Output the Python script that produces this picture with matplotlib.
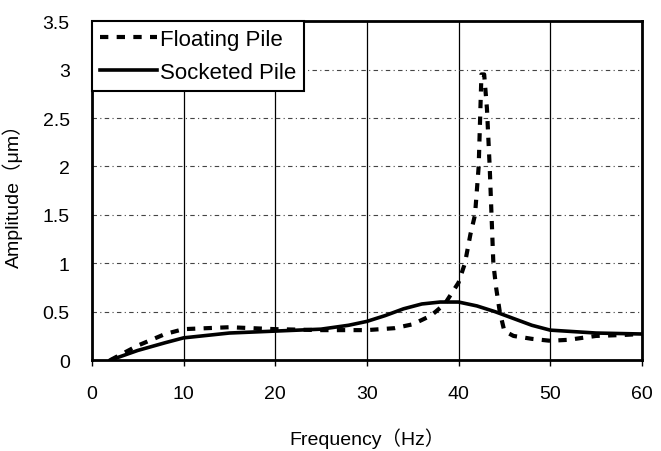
import matplotlib
matplotlib.use('Agg')
import matplotlib.pyplot as plt

plt.rcParams['font.family'] = ['Liberation Sans', 'Noto Sans CJK SC', 'DejaVu Sans']

# Floating pile (dashed)
freq_float = [2, 5, 8, 10, 15, 20, 25, 30, 33, 35, 37, 38.5, 40, 40.7, 41.3, 41.8, 42.2, 42.5,
              42.8, 43.1, 43.4, 43.6, 43.8, 44.1, 44.5, 45, 46, 48, 50, 52, 55, 58, 60]
amp_float = [0.0, 0.15, 0.27, 0.32, 0.34, 0.32, 0.31, 0.31, 0.33, 0.37, 0.46, 0.58, 0.8, 1.0, 1.3,
             1.5, 2.0, 2.95, 2.95, 2.6, 2.0, 1.5, 1.0, 0.75, 0.5, 0.3, 0.25, 0.22, 0.2, 0.21, 0.25, 0.26, 0.27]

# Socketed pile (solid)
freq_sock = [2, 5, 8, 10, 15, 20, 25, 28, 30, 32, 34, 36, 38, 40, 42, 44, 46, 48, 50, 55, 60]
amp_sock = [0.0, 0.1, 0.18, 0.23, 0.28, 0.3, 0.32, 0.36, 0.4, 0.46, 0.53, 0.58, 0.6, 0.6, 0.56,
            0.5, 0.43, 0.36, 0.31, 0.28, 0.27]

fig = plt.figure(figsize=(6.61, 4.52), dpi=100)
ax = fig.add_axes([0.139, 0.201, 0.832, 0.75])

ax.plot(freq_float, amp_float, color='black', lw=3, linestyle=(0, (2.0, 2.0)), label='Floating Pile')
ax.plot(freq_sock, amp_sock, color='black', lw=2.6, label='Socketed Pile')

ax.set_xlim(0, 60)
ax.set_ylim(0, 3.5)
ax.set_xticks(range(0, 61, 10))
ax.set_yticks([0, 0.5, 1, 1.5, 2, 2.5, 3, 3.5])
ax.set_yticklabels(['0', '0.5', '1', '1.5', '2', '2.5', '3', '3.5'])
ax.tick_params(axis='both', labelsize=14, length=4, width=1)
ax.tick_params(axis='y', length=0, pad=16)
ax.tick_params(axis='x', pad=14)

ax.grid(axis='x', color='black', lw=0.9, linestyle='-')
ax.grid(axis='y', color='#444444', lw=0.8, linestyle=(0, (4, 3, 1, 3)))
for s in ax.spines.values():
    s.set_linewidth(2)

ax.set_xlabel('Frequency（Hz）', fontsize=14, labelpad=18)
ax.set_ylabel('Amplitude（μm）', fontsize=14, labelpad=14)

leg = ax.legend(loc='upper left', fontsize=16, handlelength=2.6, borderaxespad=0,
                fancybox=False, edgecolor='black', framealpha=1, borderpad=0.35,
                labelspacing=0.55, handletextpad=0.1)
leg.get_frame().set_linewidth(1.5)

fig.savefig('out.png', dpi=100)
